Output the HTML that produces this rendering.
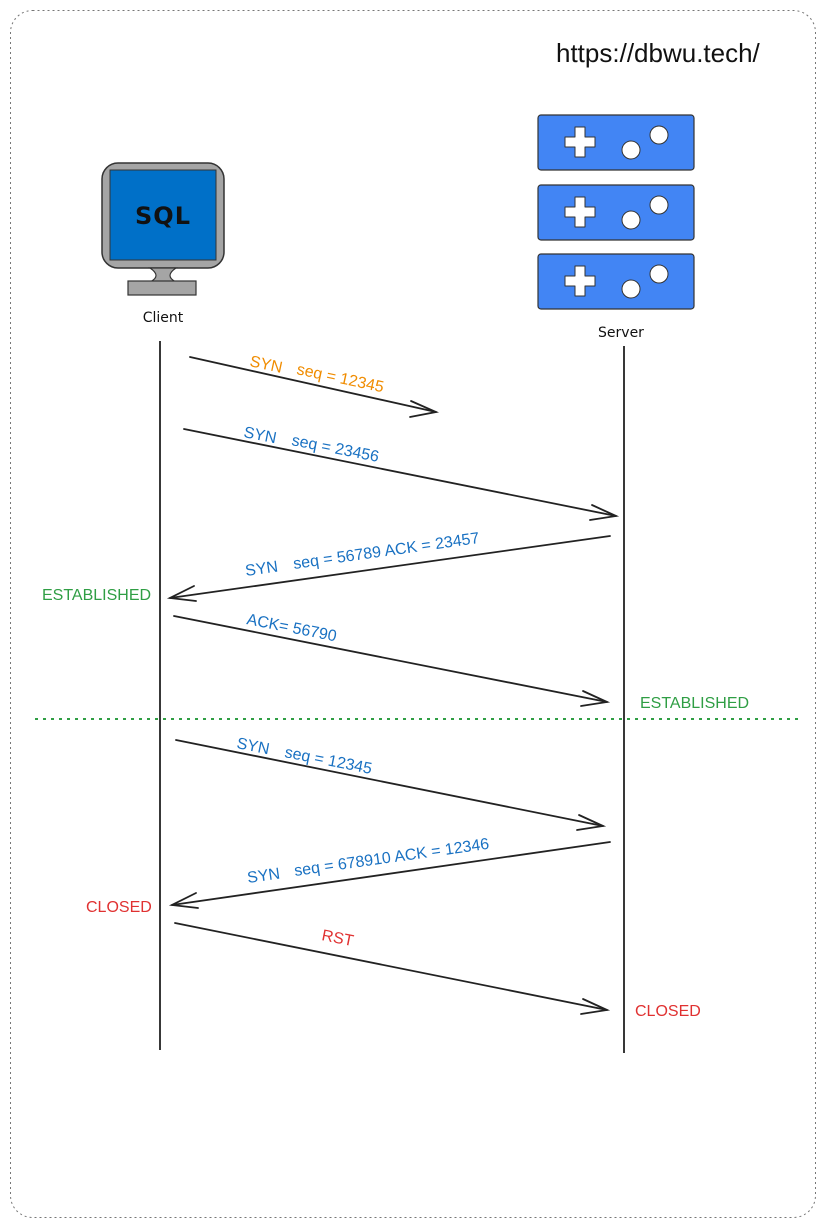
<!DOCTYPE html>
<html><head><meta charset="utf-8"><style>
html,body{margin:0;padding:0;background:#fff;}
svg{display:block;}
text{font-family:"Liberation Sans",sans-serif;}
.h{font-family:"DejaVu Sans",sans-serif;}
</style></head><body>
<svg width="824" height="1227" viewBox="0 0 824 1227" xmlns="http://www.w3.org/2000/svg">
<rect x="10.5" y="10.5" width="805" height="1207" rx="22" fill="none" stroke="#777" stroke-width="1" stroke-dasharray="2,3"/>
<text x="556" y="62" font-size="26" fill="#111">https://dbwu.tech/</text>

<!-- client monitor -->
<rect x="102" y="163" width="122" height="105" rx="16" fill="#a5a5a5" stroke="#333" stroke-width="1.5"/>
<rect x="110" y="170" width="106" height="90" fill="#0070c8" stroke="#333" stroke-width="1"/>
<text x="163" y="224" font-size="24" text-anchor="middle" fill="#111" class="h" font-weight="bold" letter-spacing="1">SQL</text>
<path d="M150 268 L176 268 Q164 276 176 282 L150 282 Q162 276 150 268Z" fill="#a5a5a5" stroke="#333" stroke-width="1.2"/>
<rect x="128" y="281" width="68" height="14" fill="#a5a5a5" stroke="#333" stroke-width="1.2"/>
<text x="163" y="322" font-size="14" text-anchor="middle" fill="#111" class="h">Client</text>

<!-- server -->
<g id="srv">
<rect x="538" y="115" width="156" height="55" rx="3" fill="#4285f4" stroke="#333" stroke-width="1.2"/>
<path d="M575 127h10v10h10v10h-10v10h-10v-10h-10v-10h10z" fill="#fff" stroke="#333" stroke-width="1" stroke-linejoin="round"/>
<circle cx="631" cy="150" r="9" fill="#fff" stroke="#333"/>
<circle cx="659" cy="135" r="9" fill="#fff" stroke="#333"/>
</g>
<use href="#srv" y="70"/>
<use href="#srv" y="139"/>
<text x="621" y="337" font-size="14" text-anchor="middle" fill="#111" class="h">Server</text>

<!-- lifelines -->
<line x1="160" y1="341" x2="160" y2="1050" stroke="#222" stroke-width="1.8"/>
<line x1="624" y1="346" x2="624" y2="1053" stroke="#222" stroke-width="1.8"/>
<line x1="35" y1="719" x2="800" y2="719" stroke="#2f9e44" stroke-width="2" stroke-dasharray="3,5"/>

<g stroke="#222" stroke-width="1.8" fill="none" stroke-linecap="round">
<line x1="190" y1="357" x2="436" y2="412"/><path d="M411 401 L436 412 L410 417"/>
<line x1="184" y1="429" x2="616" y2="516"/><path d="M592 505 L616 516 L590 520"/>
<line x1="610" y1="536" x2="170" y2="598"/><path d="M194 586 L170 598 L196 601"/>
<line x1="174" y1="616" x2="607" y2="702"/><path d="M583 691 L607 702 L581 706"/>
<line x1="176" y1="740" x2="603" y2="826"/><path d="M579 815 L603 826 L577 830"/>
<line x1="610" y1="842" x2="172" y2="905"/><path d="M196 893 L172 905 L198 908"/>
<line x1="175" y1="923" x2="607" y2="1010"/><path d="M583 999 L607 1010 L581 1014"/>
</g>

<g font-size="16">
<text transform="translate(249,366) rotate(12)" fill="#f08c00">SYN</text>
<text transform="translate(296,374) rotate(12)" fill="#f08c00">seq = 12345</text>
<text transform="translate(243,437) rotate(11)" fill="#1971c2">SYN</text>
<text transform="translate(291,445) rotate(11)" fill="#1971c2">seq = 23456</text>
<text transform="translate(246,576) rotate(-8)" fill="#1971c2">SYN</text>
<text transform="translate(294,569) rotate(-8)" fill="#1971c2">seq = 56789 ACK = 23457</text>
<text transform="translate(246,624) rotate(11)" fill="#1971c2">ACK= 56790</text>
<text transform="translate(236,748) rotate(11)" fill="#1971c2">SYN</text>
<text transform="translate(284,757) rotate(11)" fill="#1971c2">seq = 12345</text>
<text transform="translate(248,883) rotate(-8)" fill="#1971c2">SYN</text>
<text transform="translate(295,876) rotate(-8)" fill="#1971c2">seq = 678910 ACK = 12346</text>
<text transform="translate(321,940) rotate(11)" fill="#e03131">RST</text>
<text x="42" y="600" fill="#2f9e44">ESTABLISHED</text>
<text x="640" y="708" fill="#2f9e44">ESTABLISHED</text>
<text x="86" y="912" fill="#e03131">CLOSED</text>
<text x="635" y="1016" fill="#e03131">CLOSED</text>
</g>
</svg>
</body></html>
